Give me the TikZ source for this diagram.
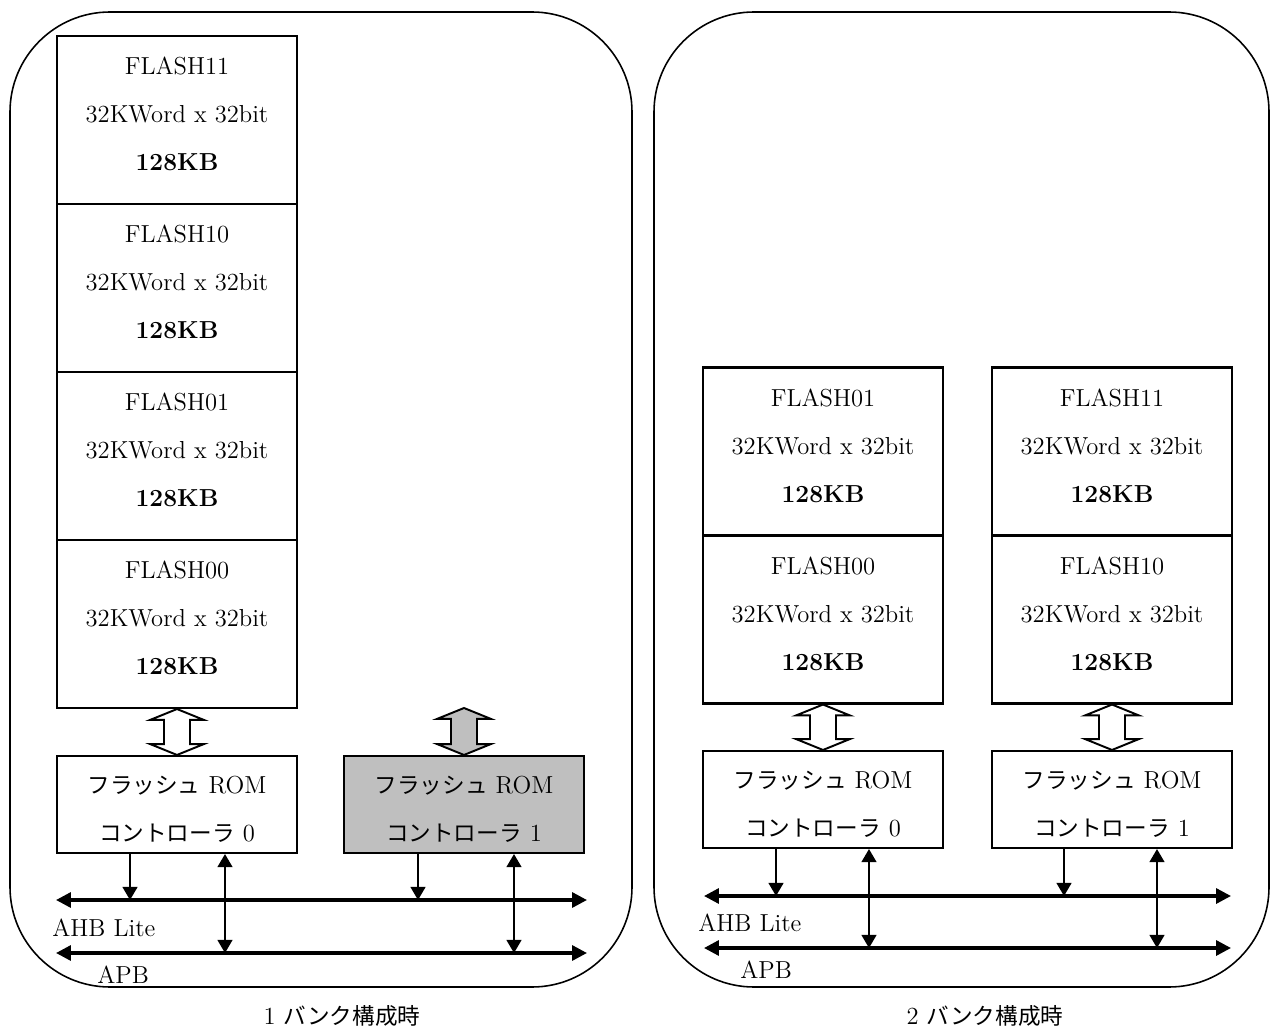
\documentclass[tikz,border=0pt]{standalone}
\usepackage{fontspec}
\newfontfamily\jp[Scale=0.92]{Noto Sans CJK JP}
\usepackage{tikz}
\usetikzlibrary{arrows.meta,calc}
\tikzset{
  panel/.style={draw, line width=0.9pt, rounded corners=2cm},
  flashbox/.style={draw, line width=1.2pt, minimum width=4.8cm, minimum height=3.36cm, align=center, text depth=6.8pt},
  ctrlbox/.style={draw, line width=1.2pt, minimum width=4.8cm, minimum height=1.94cm, align=center, text height=42pt, text depth=0pt},
  busline/.style={{Triangle[length=8.5pt,width=8.5pt]}-{Triangle[length=8.5pt,width=8.5pt]}, line width=1.9pt},
  sigdown/.style={-{Triangle[length=7.5pt,width=8.5pt]}, line width=1.1pt},
  sigboth/.style={{Triangle[length=7.5pt,width=8.5pt]}-{Triangle[length=7.5pt,width=8.5pt]}, line width=1.1pt},
  buslabel/.style={anchor=west, inner sep=0pt},
  caption/.style={inner sep=0pt},
  hollow/.style={draw, line width=1.1pt, fill=#1, to path={
    let \p1=(\tikztostart), \p2=(\tikztotarget) in
    (\x1,\y1) -- (\x1+15.3pt,\y1-6.2pt) -- (\x1+7.4pt,\y1-6.2pt) -- (\x1+7.4pt,\y2+6.2pt)
    -- (\x1+15.3pt,\y2+6.2pt) -- (\x1,\y2) -- (\x1-15.3pt,\y2+6.2pt) -- (\x1-7.4pt,\y2+6.2pt)
    -- (\x1-7.4pt,\y1-6.2pt) -- (\x1-15.3pt,\y1-6.2pt) -- cycle}},
  hollow/.default=white
}

\begin{document}
\begin{tikzpicture}[x=0.02cm, y=-0.02cm, font=\fontsize{14}{27.3}\selectfont]
\useasboundingbox (0,0) rectangle (1271,1030);

% 1 bank
\draw[panel] (10,12) rectangle (632,987);
\node[flashbox] (lf11) at (177,120) {FLASH11\\32KWord x 32bit\\\textbf{128KB}};
\node[flashbox] (lf10) at (177,288) {FLASH10\\32KWord x 32bit\\\textbf{128KB}};
\node[flashbox] (lf01) at (177,456) {FLASH01\\32KWord x 32bit\\\textbf{128KB}};
\node[flashbox] (lf00) at (177,624) {FLASH00\\32KWord x 32bit\\\textbf{128KB}};
\node[ctrlbox] (lc0) at (177,804.5) {{\jp フラッシュ} ROM\\{\jp コントローラ} 0};
\node[ctrlbox, fill=black!25] (lc1) at (464,804.5) {{\jp フラッシュ} ROM\\{\jp コントローラ} 1};
\coordinate (lc1top) at (464,708);
\draw[hollow] (lf00.south) to (lc0.north);
\draw[hollow=black!25] (lc1top) to (lc1.north);
\coordinate (lahbL) at (56,900);
\coordinate (lahbR) at (587,900);
\coordinate (lapbL) at (56,953);
\coordinate (lapbR) at (587,953);
\draw[busline] (lahbL) -- (lahbR);
\draw[busline] (lapbL) -- (lapbR);
\draw[sigdown] ([xshift=-0.94cm]lc0.south) -- ([xshift=-0.94cm]lc0.south |- lahbL);
\draw[sigboth] ([xshift=0.96cm]lc0.south) -- ([xshift=0.96cm]lc0.south |- lapbL);
\draw[sigdown] ([xshift=-0.92cm]lc1.south) -- ([xshift=-0.92cm]lc1.south |- lahbL);
\draw[sigboth] ([xshift=1cm]lc1.south) -- ([xshift=1cm]lc1.south |- lapbL);
\node[buslabel] (lahb) at (52,928) {AHB Lite};
\node[buslabel] (lapb) at (97,975) {APB};
\node[caption] (cap1) at (342,1016) {1 {\jp バンク構成時}};

% 2 banks
\draw[panel] (654,12) rectangle (1269,987);
\node[flashbox] (rf01) at (823,451.5) {FLASH01\\32KWord x 32bit\\\textbf{128KB}};
\node[flashbox] (rf00) at (823,619.5) {FLASH00\\32KWord x 32bit\\\textbf{128KB}};
\node[flashbox] (rf11) at (1112,451.5) {FLASH11\\32KWord x 32bit\\\textbf{128KB}};
\node[flashbox] (rf10) at (1112,619.5) {FLASH10\\32KWord x 32bit\\\textbf{128KB}};
\node[ctrlbox] (rc0) at (823,799.5) {{\jp フラッシュ} ROM\\{\jp コントローラ} 0};
\node[ctrlbox] (rc1) at (1112,799.5) {{\jp フラッシュ} ROM\\{\jp コントローラ} 1};
\draw[hollow] (rf00.south) to (rc0.north);
\draw[hollow] (rf10.south) to (rc1.north);
\coordinate (rahbL) at (704,896);
\coordinate (rahbR) at (1231,896);
\coordinate (rapbL) at (704,948);
\coordinate (rapbR) at (1231,948);
\draw[busline] (rahbL) -- (rahbR);
\draw[busline] (rapbL) -- (rapbR);
\draw[sigdown] ([xshift=-0.94cm]rc0.south) -- ([xshift=-0.94cm]rc0.south |- rahbL);
\draw[sigboth] ([xshift=0.92cm]rc0.south) -- ([xshift=0.92cm]rc0.south |- rapbL);
\draw[sigdown] ([xshift=-0.96cm]rc1.south) -- ([xshift=-0.96cm]rc1.south |- rahbL);
\draw[sigboth] ([xshift=0.9cm]rc1.south) -- ([xshift=0.9cm]rc1.south |- rapbL);
\node[buslabel] (rahb) at (698,923) {AHB Lite};
\node[buslabel] (rapb) at (740,970) {APB};
\node[caption] (cap2) at (985,1016) {2 {\jp バンク構成時}};
\end{tikzpicture}
\end{document}
